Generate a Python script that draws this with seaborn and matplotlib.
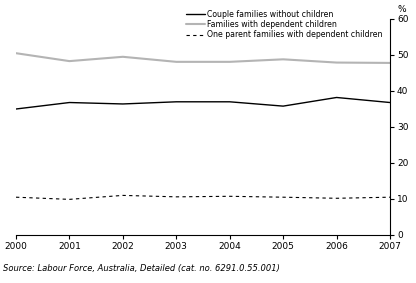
import pandas as pd
import seaborn as sns
import matplotlib.pyplot as plt

# Data
years = [2000, 2001, 2002, 2003, 2004, 2005, 2006, 2007]
couple_no_children = [35.0, 36.8, 36.4, 37.0, 37.0, 35.8, 38.2, 36.8]
families_dependent = [50.5, 48.3, 49.5, 48.1, 48.1, 48.8, 47.9, 47.8]
one_parent = [10.5, 9.9, 11.0, 10.6, 10.75, 10.5, 10.2, 10.5]

series_names = ["Couple families without children",
                "Families with dependent children",
                "One parent families with dependent children"]

df = pd.DataFrame({
    "year": years * 3,
    "value": couple_no_children + families_dependent + one_parent,
    "series": [series_names[0]] * 8 + [series_names[1]] * 8 + [series_names[2]] * 8,
})

sns.set_style("white")
plt.rcParams["font.family"] = ["DejaVu Sans"]
plt.rcParams["font.size"] = 6
plt.rcParams["text.color"] = "black"
plt.rcParams["xtick.color"] = "black"
plt.rcParams["ytick.color"] = "black"

fig = plt.figure(figsize=(4.16, 2.83), dpi=100)
ax = fig.add_axes([16 / 416, 1 - 235 / 283, (390 - 16) / 416, (235 - 19) / 283])

palette = {series_names[0]: "black", series_names[1]: "#b4b4b4", series_names[2]: "black"}
widths = {series_names[0]: 1.0, series_names[1]: 1.5, series_names[2]: 0.8}
styles = {series_names[0]: "-", series_names[1]: "-", series_names[2]: (0, (3, 3))}

for name in series_names:
    sub = df[df["series"] == name]
    sns.lineplot(data=sub, x="year", y="value", ax=ax, color=palette[name],
                 lw=widths[name], linestyle=styles[name], label=name)

ax.set_xlim(2000, 2007)
ax.set_ylim(0, 60)
ax.set_xticks(years)
ax.set_yticks([0, 10, 20, 30, 40, 50, 60])
ax.set_xlabel("")
ax.set_ylabel("")

ax.yaxis.tick_right()
for side in ["left", "top"]:
    ax.spines[side].set_visible(False)
for side in ["right", "bottom"]:
    ax.spines[side].set_color("black")
    ax.spines[side].set_linewidth(0.8)
ax.tick_params(axis="both", direction="out", length=3, width=0.8, color="black",
               labelsize=6.5, pad=2)
ax.tick_params(axis="y", left=False, right=True)
ax.tick_params(axis="x", bottom=True)

fig.text(397 / 416, 1 - 9 / 283, "%", fontsize=6.5, ha="left", va="center")

leg = ax.legend(loc="upper right", bbox_to_anchor=(0.981, 1.042),
                frameon=False, fontsize=5.6, handlelength=2.5, handletextpad=0.3,
                labelspacing=0.15, borderpad=0, borderaxespad=0)

fig.text(3 / 416, 1 - 268 / 283, "Source: Labour Force, Australia, Detailed (cat. no. 6291.0.55.001)",
         fontsize=6, style="italic", ha="left", va="center")

fig.savefig("out.png", dpi=100)
